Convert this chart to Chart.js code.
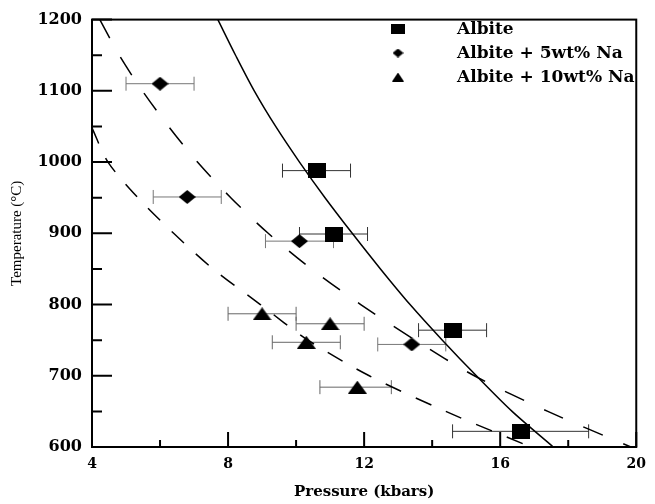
<!DOCTYPE html>
<html><head><meta charset="utf-8">
<script src="https://cdn.jsdelivr.net/npm/chart.js@4/dist/chart.umd.min.js"></script>
<style>html,body{margin:0;padding:0;background:#fff}#wrap{width:655px;height:504px;position:relative}</style>
</head><body><div id="wrap"><canvas id="c" width="655" height="504"></canvas></div>
<script>
// ---- tick values ----
const xTickValues = [4, 8, 12, 16, 20];
const xMinorTicks = [6, 10, 14, 18];
const yTickValues = [600, 700, 800, 900, 1000, 1100, 1200];
const yMinorTicks = [650, 750, 850, 950, 1050, 1150];
const seriesNames = ['Albite', 'Albite + 5wt% Na', 'Albite + 10wt% Na'];

// ---- measured points (P in kbar, T in °C) with horizontal error ranges ----
const albiteP = [10.6, 11.1, 14.6, 16.6];
const albiteT = [988, 899, 764, 622];
const albitePLow = [9.6, 10.1, 13.6, 14.6];
const albitePHigh = [11.6, 12.1, 15.6, 18.6];

const na5P = [6.0, 6.8, 10.1, 13.4];
const na5T = [1110, 951, 889, 744];
const na5PLow = [5.0, 5.8, 9.1, 12.4];
const na5PHigh = [7.0, 7.8, 11.1, 14.4];

const na10P = [9.0, 10.3, 11.0, 11.8];
const na10T = [787, 747, 773, 684];
const na10PLow = [8.0, 9.3, 10.0, 10.7];
const na10PHigh = [10.0, 11.3, 12.0, 12.8];

// ---- fitted curves ----
const albiteCurveP = [7.7, 8.22, 8.77, 9.4, 10.1, 10.85, 11.65, 12.48, 13.35, 14.3, 15.3, 16.35, 17.56];
const albiteCurveT = [1200, 1150, 1100, 1050, 1000, 950, 900, 850, 800, 750, 700, 650, 600];
const na5CurveP = [4.23, 4.8, 5.48, 6.25, 7.1, 8.08, 9.18, 10.45, 11.9, 13.5, 15.24, 17.4, 19.84];
const na5CurveT = [1200, 1150, 1100, 1050, 1000, 950, 900, 850, 800, 750, 700, 650, 600];
const na10CurveP = [4.0, 4.47, 5.35, 6.4, 7.56, 8.95, 10.35, 12.15, 14.4, 16.9];
const na10CurveT = [1048, 1000, 950, 900, 850, 800, 750, 700, 650, 600];

function zip(xs, ys) { return xs.map((x, i) => ({ x: x, y: ys[i] })); }

function markerCanvas(shape, w, h) {
  const c = document.createElement('canvas');
  c.width = w; c.height = h;
  const g = c.getContext('2d');
  g.fillStyle = '#000';
  g.beginPath();
  if (shape === 'square') { g.rect(0, 0, w, h); }
  else if (shape === 'diamond') { g.moveTo(w / 2, 0); g.lineTo(w, h / 2); g.lineTo(w / 2, h); g.lineTo(0, h / 2); g.closePath(); }
  else { g.moveTo(w / 2, 0); g.lineTo(w, h); g.lineTo(0, h); g.closePath(); }
  g.fill();
  return c;
}
const mSquare = markerCanvas('square', 18, 15);
const mDiamond = markerCanvas('diamond', 17, 14);
const mTriangle = markerCanvas('triangle', 19, 13);
const lSquare = markerCanvas('square', 14, 10);
const lDiamond = markerCanvas('diamond', 11, 9);
const lTriangle = markerCanvas('triangle', 12, 9);

function errorSets(P, T, lo, hi, color) {
  return T.map((t, i) => ({
    type: 'scatter',
    data: [{ x: lo[i], y: t }, { x: hi[i], y: t }],
    showLine: true,
    borderColor: color,
    borderWidth: 1,
    pointStyle: 'line',
    rotation: 90,
    pointRadius: 7,
    pointHoverRadius: 7,
    pointBorderColor: color,
    pointBorderWidth: 1
  }));
}

const datasets = [
  { label: seriesNames[0], data: zip(albiteP, albiteT), pointStyle: mSquare, pointRadius: 9, backgroundColor: '#000', borderColor: '#000' },
  { label: seriesNames[1], data: zip(na5P, na5T), pointStyle: mDiamond, pointRadius: 9, backgroundColor: '#000', borderColor: '#000' },
  { label: seriesNames[2], data: zip(na10P, na10T), pointStyle: mTriangle, pointRadius: 9, backgroundColor: '#000', borderColor: '#000' },
  { data: zip(albiteCurveP, albiteCurveT), showLine: true, pointRadius: 0, borderColor: '#000', borderWidth: 1.5, tension: 0.3 },
  { data: zip(na5CurveP, na5CurveT), showLine: true, pointRadius: 0, borderColor: '#000', borderWidth: 1.5, borderDash: [21, 22], tension: 0.3 },
  { data: zip(na10CurveP, na10CurveT), showLine: true, pointRadius: 0, borderColor: '#000', borderWidth: 1.5, borderDash: [17, 16], tension: 0.3 },
  ...errorSets(albiteP, albiteT, albitePLow, albitePHigh, '#333'),
  ...errorSets(na5P, na5T, na5PLow, na5PHigh, '#777'),
  ...errorSets(na10P, na10T, na10PLow, na10PHigh, '#666')
];

const frameTicks = {
  id: 'frameTicks',
  beforeDatasetsDraw(chart) {
    const { ctx, chartArea: a, scales: { x, y } } = chart;
    ctx.save();
    ctx.strokeStyle = '#000';
    ctx.lineWidth = 2;
    ctx.beginPath();
    xTickValues.forEach(v => { const px = x.getPixelForValue(v); ctx.moveTo(px, a.bottom); ctx.lineTo(px, a.bottom - 15); });
    xMinorTicks.forEach(v => { const px = x.getPixelForValue(v); ctx.moveTo(px, a.bottom); ctx.lineTo(px, a.bottom - 7); });
    yTickValues.forEach(v => { const py = y.getPixelForValue(v); ctx.moveTo(a.left, py); ctx.lineTo(a.left + 20, py); });
    yMinorTicks.forEach(v => { const py = y.getPixelForValue(v); ctx.moveTo(a.left, py); ctx.lineTo(a.left + 10, py); });
    ctx.stroke();
    ctx.strokeRect(a.left, a.top, a.right - a.left, a.bottom - a.top);
    ctx.restore();
  },
  afterDraw(chart) {
    const { ctx } = chart;
    const icons = [lSquare, lDiamond, lTriangle];
    ctx.save();
    ctx.fillStyle = '#000';
    ctx.font = 'bold 17px "DejaVu Serif"';
    ctx.textBaseline = 'middle';
    seriesNames.forEach((name, i) => {
      const cy = 29 + i * 24;
      const ic = icons[i];
      ctx.drawImage(ic, 398 - ic.width / 2, cy - ic.height / 2);
      ctx.fillText(name, 457, cy + 1);
    });
    ctx.restore();
  }
};

new Chart(document.getElementById('c'), {
  type: 'scatter',
  data: { datasets: datasets },
  plugins: [frameTicks],
  options: {
    responsive: false,
    animation: false,
    devicePixelRatio: 1,
    layout: { padding: { left: 0, right: 12, top: 13, bottom: 0 } },
    plugins: { legend: { display: false }, tooltip: { enabled: false } },
    scales: {
      x: {
        type: 'linear', min: 4, max: 20,
        afterBuildTicks: s => { s.ticks = xTickValues.map(v => ({ value: v })); },
        afterFit: s => { s.height = 57; },
        grid: { display: false, drawTicks: false },
        border: { display: false },
        ticks: { color: '#000', padding: 9, callback: v => String(v), font: { family: 'DejaVu Serif', weight: 'bold', size: 14 } },
        title: { display: true, text: 'Pressure (kbars)', color: '#000', font: { family: 'DejaVu Serif', weight: 'bold', size: 15 }, padding: { top: 0, bottom: 3 } }
      },
      y: {
        type: 'linear', min: 600, max: 1200,
        afterBuildTicks: s => { s.ticks = yTickValues.map(v => ({ value: v })); },
        afterFit: s => { s.width = 92; },
        grid: { display: false, drawTicks: false },
        border: { display: false },
        ticks: { color: '#000', padding: 10, callback: v => String(v), font: { family: 'DejaVu Serif', weight: 'bold', size: 16 } },
        title: { display: true, text: 'Temperature (°C)', color: '#000', font: { family: 'Liberation Serif', size: 15 }, padding: { top: 8, bottom: 0 } }
      }
    }
  }
});
</script></body></html>
